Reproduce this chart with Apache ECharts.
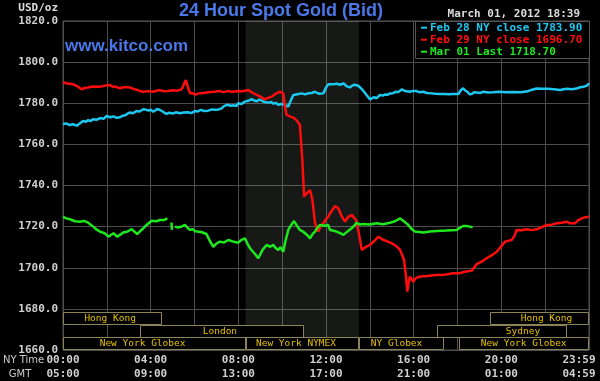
<!DOCTYPE html>
<html><head><meta charset="utf-8">
<script src="https://cdn.jsdelivr.net/npm/echarts@6/dist/echarts.min.js"></script>
<style>html,body{margin:0;padding:0;background:#000}#c{width:600px;height:381px}</style>
</head><body><div id="c"></div>
<script>
const titleText = '24 Hour Spot Gold (Bid)';
const siteText = 'www.kitco.com';
const dateText = 'March 01, 2012 18:39';
const unitText = 'USD/oz';
const nyTicks = ['00:00','04:00','08:00','12:00','16:00','20:00','23:59'];
const gmtTicks = ['05:00','09:00','13:00','17:00','21:00','01:00','04:59'];
const rowNames = ['NY Time','GMT'];
const seriesNames = ['Feb 28 NY close','Feb 29 NY close','Mar 01 Last'];
const seriesLast = ['1783.90','1696.70','1718.70'];

// [hour (NY time), price]
const feb28 = [[0,1769.8],[0.15,1770.2],[0.3,1769.4],[0.45,1769.8],[0.63,1769.1],[0.78,1770.3],[0.91,1771.4],[1.05,1771.0],[1.15,1771.8],[1.25,1771.3],[1.37,1772.2],[1.55,1772.0],[1.7,1772.8],[1.85,1772.4],[1.99,1773.8],[2.15,1773.2],[2.3,1773.6],[2.45,1772.9],[2.6,1773.2],[2.75,1774.0],[2.85,1774.2],[2.95,1775.0],[3.06,1775.5],[3.2,1775.1],[3.35,1776.2],[3.5,1776.0],[3.66,1777.1],[3.8,1776.8],[3.9,1776.4],[4.0,1776.9],[4.12,1775.9],[4.2,1776.3],[4.3,1777.2],[4.43,1776.7],[4.52,1777.4],[4.6,1775.6],[4.73,1774.8],[4.85,1775.4],[5.0,1775.0],[5.15,1775.6],[5.34,1775.1],[5.5,1775.5],[5.7,1775.6],[5.85,1775.2],[6.02,1776.2],[6.15,1776.0],[6.3,1776.8],[6.45,1776.2],[6.62,1776.4],[6.8,1777.0],[6.95,1776.8],[7.1,1777.0],[7.24,1777.5],[7.35,1778.6],[7.5,1779.3],[7.65,1778.8],[7.8,1779.0],[7.9,1778.6],[8.0,1780.0],[8.15,1779.6],[8.3,1780.8],[8.45,1781.2],[8.61,1782],[8.75,1781.2],[8.85,1781.0],[8.95,1781.8],[9.07,1781.3],[9.2,1780.6],[9.37,1780.3],[9.5,1780.6],[9.6,1779.8],[9.72,1780.2],[9.82,1779.2],[9.95,1779.6],[10.13,1779.2],[10.28,1778.4],[10.4,1781.5],[10.51,1784],[10.7,1784.4],[10.89,1784.8],[11.05,1784.3],[11.2,1784.9],[11.35,1785.0],[11.5,1785.6],[11.6,1785.0],[11.7,1784.6],[11.88,1784.8],[12.0,1787.6],[12.1,1789.2],[12.18,1788.8],[12.35,1789.3],[12.5,1789.5],[12.65,1789.0],[12.79,1789.7],[12.95,1788.2],[13.09,1787.7],[13.2,1788.6],[13.3,1789.0],[13.47,1788.5],[13.6,1787.2],[13.7,1786.1],[13.85,1784.0],[14.01,1781.9],[14.1,1782.6],[14.2,1783.0],[14.3,1782.4],[14.46,1784],[14.6,1783.7],[14.7,1784.3],[14.8,1784.1],[14.92,1784.8],[15.05,1784.9],[15.2,1785.6],[15.3,1785.4],[15.45,1786.7],[15.6,1786.0],[15.83,1785.6],[15.95,1786.0],[16.1,1786.0],[16.25,1785.4],[16.44,1785.6],[16.6,1785.0],[16.8,1784.8],[17.0,1784.6],[17.2,1784.5],[17.4,1784.5],[17.6,1784.4],[17.8,1784.5],[18.04,1784.5],[18.15,1786.3],[18.26,1787.3],[18.35,1786.2],[18.45,1785.6],[18.55,1784.4],[18.65,1784.5],[18.78,1785.4],[18.9,1785.2],[19.05,1785.0],[19.18,1785.6],[19.4,1785.2],[19.63,1785.3],[19.9,1785.6],[20.2,1785.4],[20.5,1785.5],[20.85,1785.3],[21.05,1785.6],[21.2,1785.8],[21.4,1786.6],[21.61,1787.2],[21.85,1787.0],[22.1,1787.0],[22.4,1786.8],[22.68,1786.4],[22.85,1786.8],[23.0,1787.0],[23.2,1786.8],[23.44,1787.2],[23.6,1787.8],[23.75,1788.0],[23.9,1788.6],[24,1789.7]];
const feb29 = [[0,1790.2],[0.2,1789.6],[0.47,1789.2],[0.65,1788.3],[0.85,1786.8],[1.0,1787.4],[1.1,1787.6],[1.25,1787.9],[1.38,1788.1],[1.6,1788.0],[1.8,1788.3],[1.95,1788.6],[2.14,1788.9],[2.25,1788.2],[2.4,1788.0],[2.6,1787.3],[2.8,1787.9],[3.06,1787.7],[3.2,1787.0],[3.35,1786.6],[3.5,1786.0],[3.66,1785.6],[3.9,1785.9],[4.12,1785.6],[4.3,1786.2],[4.43,1786.4],[4.6,1785.8],[4.8,1786.0],[5.0,1786.3],[5.19,1786.1],[5.42,1786.8],[5.6,1791.3],[5.7,1787.8],[5.8,1784.8],[5.9,1785.0],[6.02,1784.2],[6.2,1784.8],[6.48,1785.1],[6.7,1785.5],[6.93,1785.6],[7.1,1786.0],[7.3,1785.4],[7.54,1785.9],[7.75,1785.6],[8.0,1786.0],[8.2,1785.8],[8.46,1786.4],[8.6,1785.4],[8.76,1784.5],[9.0,1783.2],[9.22,1781.9],[9.35,1782.6],[9.52,1783.2],[9.7,1784.6],[9.9,1785.6],[10.05,1784.8],[10.12,1779.0],[10.2,1774.3],[10.35,1773.6],[10.51,1773],[10.65,1771.8],[10.81,1769.4],[10.92,1752.4],[11.0,1734.6],[11.12,1736.2],[11.27,1737.8],[11.38,1733],[11.5,1721.6],[11.65,1717.6],[11.75,1720.2],[11.88,1721.6],[12.0,1723.6],[12.1,1724.8],[12.18,1726.4],[12.3,1728.2],[12.41,1730],[12.56,1728.9],[12.7,1725.4],[12.87,1722.4],[13.0,1724.6],[13.17,1725.7],[13.37,1723.2],[13.47,1718.4],[13.63,1708.7],[13.8,1710.0],[14.01,1711.1],[14.2,1713.0],[14.39,1715.1],[14.62,1713.5],[14.8,1712.8],[15.0,1711.9],[15.2,1710.6],[15.38,1708.7],[15.56,1703.8],[15.65,1695.7],[15.71,1688.4],[15.77,1693.0],[15.83,1695.7],[15.98,1693.2],[16.1,1695.0],[16.29,1695.7],[16.6,1696.0],[17.05,1696.5],[17.4,1696.6],[17.8,1697.3],[18.11,1697.3],[18.34,1698.1],[18.65,1698.6],[18.88,1701.8],[19.1,1703.0],[19.33,1704.6],[19.55,1706.0],[19.79,1707.8],[19.95,1709.8],[20.17,1712.7],[20.47,1713.5],[20.6,1715.5],[20.7,1718.4],[20.9,1718.2],[21.15,1718.7],[21.4,1718.3],[21.61,1718.7],[21.85,1719.8],[22.07,1720.8],[22.3,1720.9],[22.52,1721.6],[22.75,1721.9],[22.98,1722.4],[23.15,1721.6],[23.36,1721.6],[23.5,1723.0],[23.67,1724],[23.85,1724.6],[24,1724.8]];
const mar01 = [[0,1724.8],[0.15,1724.0],[0.32,1723.6],[0.55,1722.6],[0.78,1722.4],[0.95,1722.8],[1.15,1721.9],[1.38,1720],[1.5,1718.8],[1.69,1717.6],[1.9,1716.8],[2.07,1715.1],[2.3,1716.8],[2.48,1715.1],[2.6,1716.0],[2.75,1717.1],[2.95,1717.6],[3.13,1718.8],[3.25,1717.6],[3.39,1716.4],[3.5,1717.6],[3.66,1719.1],[3.85,1721.2],[4.05,1722.9],[4.25,1722.6],[4.43,1723.2],[4.6,1723.2],[4.76,1724],[4.85,null],[4.95,1722],[4.97,1718.4],[5.02,null],[5.11,1720],[5.25,1719.6],[5.34,1719.2],[5.45,1720.2],[5.57,1720.8],[5.7,1719.2],[5.8,1718.4],[5.92,1718.8],[6.02,1717.8],[6.3,1717.4],[6.55,1716.4],[6.7,1713.0],[6.86,1710.2],[7.0,1711.8],[7.16,1712.7],[7.35,1712.3],[7.54,1713.5],[7.8,1712.6],[8.0,1712.2],[8.15,1713.6],[8.3,1714.3],[8.4,1712.0],[8.53,1709.5],[8.75,1706.8],[8.91,1704.6],[9.1,1708.6],[9.29,1711.1],[9.45,1710.2],[9.6,1711.1],[9.7,1709.6],[9.82,1708.7],[9.92,1710.0],[10.05,1707.8],[10.15,1713.0],[10.28,1718.4],[10.4,1720.6],[10.54,1722.7],[10.7,1720.0],[10.81,1718.4],[10.95,1717.6],[11.04,1716.8],[11.15,1715.8],[11.27,1714.3],[11.4,1716.6],[11.5,1717.6],[11.6,1719.4],[11.73,1720.8],[11.9,1720.4],[12.1,1720.8],[12.18,1718.4],[12.35,1718.0],[12.48,1717.6],[12.65,1716.8],[12.79,1716],[13.0,1717.8],[13.17,1719.2],[13.3,1720.6],[13.4,1721.9],[13.55,1721.0],[13.7,1721.3],[14.0,1721.0],[14.31,1721.6],[14.6,1721.2],[14.92,1721.9],[15.15,1722.6],[15.38,1724],[15.55,1722.6],[15.76,1720.8],[15.9,1718.8],[16.06,1717.6],[16.25,1717.4],[16.44,1717.1],[16.75,1717.6],[17.05,1717.9],[17.5,1718.1],[17.96,1718.4],[18.1,1719.4],[18.26,1720.3],[18.41,1720.3],[18.55,1720.0],[18.69,1719.7]];

const nymexHours = [8.333, 13.5];
const sessionNames = ['Hong Kong','Hong Kong','London','Sydney','New York Globex','New York NYMEX','NY Globex','New York Globex'];
const sessionStart = [0, 19.5, 3.5, 17.05, 0, 8.333, 13.5, 18.05];
const sessionEnd   = [4.5, 24, 11.0, 23.0, 8.333, 13.5, 17.4, 24];
const sessionRow   = [0, 0, 1, 1, 2, 2, 2, 2];
const sessionLabelAt = [2.15, 22.06, 7.16, 20.99, 3.63, 10.63, 15.22, 21.02];

const colors = ['#1cc8f0', '#ff0d0d', '#1ee81e'];
const mono = '"DejaVu Sans Mono", monospace';

const chart = echarts.init(document.getElementById('c'), null, {renderer: 'canvas'});

const sessionData = sessionNames.map((n, i) => [sessionStart[i], sessionEnd[i], sessionRow[i], sessionLabelAt[i]]);

const graphics = [
  {type:'text', z:100, style:{text:titleText, x:281, y:11, align:'center', verticalAlign:'middle', font:'bold 18px "Liberation Sans", Arial', fill:'#4a78e8'}},
  {type:'text', z:100, style:{text:siteText, x:65, y:46, align:'left', verticalAlign:'middle', font:'bold 17px "Liberation Sans", Arial', fill:'#4a78e8'}},
  {type:'text', z:100, style:{text:dateText, x:580, y:14, align:'right', verticalAlign:'middle', font:'bold 11px ' + mono, fill:'#dddddd'}},
  {type:'text', z:100, style:{text:unitText, x:58, y:8, align:'right', verticalAlign:'middle', font:'bold 11px ' + mono, fill:'#dddddd'}},
  {type:'rect', z:100, shape:{x:415.5, y:21.5, width:174, height:37}, style:{fill:'#000', stroke:'#555', lineWidth:1}},
  {type:'text', z:100, style:{text:rowNames[0], x:3, y:360, align:'left', verticalAlign:'middle', font:'10px "DejaVu Sans"', fill:'#cccccc'}},
  {type:'text', z:100, style:{text:rowNames[1], x:20, y:374, align:'center', verticalAlign:'middle', font:'10px "DejaVu Sans"', fill:'#cccccc'}},
  {type:'text', z:100, style:{text:nyTicks[6], x:579, y:360, align:'center', verticalAlign:'middle', font:'bold 11px ' + mono, fill:'#d0d0d0'}},
  {type:'text', z:100, style:{text:gmtTicks[6], x:579, y:374, align:'center', verticalAlign:'middle', font:'bold 11px ' + mono, fill:'#d0d0d0'}}
];
seriesNames.forEach((n, i) => {
  const cy = 27.7 + i * 12;
  graphics.push({type:'rect', z:101, shape:{x:421, y:cy - 1, width:6, height:2}, style:{fill:colors[i]}});
  graphics.push({type:'text', z:101, style:{text:n + ' ' + seriesLast[i], x:430, y:cy, align:'left', verticalAlign:'middle', font:'bold 11px ' + mono, fill:colors[i]}});
});

chart.setOption({
  backgroundColor: '#000',
  animation: false,
  grid: {left: 63, right: 11, top: 21, bottom: 31, show: true, borderColor: '#555', borderWidth: 1, backgroundColor: 'transparent'},
  xAxis: {
    type: 'value', min: 0, max: 24, interval: 2,
    axisLine: {show: false}, axisTick: {show: false},
    splitLine: {show: true, lineStyle: {color: '#4d4d4d', width: 1}},
    axisLabel: {
      color: '#d0d0d0', fontFamily: mono, fontWeight: 'bold', fontSize: 11, lineHeight: 14, margin: 3,
      showMaxLabel: false,
      formatter: v => (v % 4 === 0 && v < 24) ? nyTicks[v / 4] + '\n' + gmtTicks[v / 4] : ''
    }
  },
  yAxis: {
    type: 'value', min: 1660, max: 1820, interval: 20,
    axisLine: {show: false}, axisTick: {show: false},
    splitLine: {show: true, lineStyle: {color: '#4d4d4d', width: 1}},
    axisLabel: {color: '#d0d0d0', fontFamily: mono, fontWeight: 'bold', fontSize: 11, margin: 5, formatter: v => v.toFixed(1)}
  },
  graphic: graphics,
  series: [
    {type: 'line', data: [], silent: true,
      markArea: {silent: true, itemStyle: {color: 'rgba(190,205,190,0.12)'}, data: [[{xAxis: nymexHours[0]}, {xAxis: nymexHours[1]}]]}},
    {type: 'line', name: seriesNames[0], data: feb28, showSymbol: false, lineStyle: {color: colors[0], width: 2.5}, itemStyle: {color: colors[0]}},
    {type: 'line', name: seriesNames[1], data: feb29, showSymbol: false, lineStyle: {color: colors[1], width: 2.5}, itemStyle: {color: colors[1]}},
    {type: 'line', name: seriesNames[2], data: mar01, showSymbol: false, connectNulls: false, lineStyle: {color: colors[2], width: 2.5}, itemStyle: {color: colors[2]}},
    {type: 'custom', data: sessionData, silent: true, clip: true,
      renderItem: (params, api) => {
        const s = api.value(0), e = api.value(1), row = api.value(2), lab = api.value(3);
        const cs = params.coordSys;
        const pTop = api.coord([s, 1680]);
        const pBot = api.coord([e, 1660]);
        const top0 = pTop[1] + 3.5;
        const rowH = (pBot[1] - 1 - top0) / 3;
        const x0 = Math.max(pTop[0], cs.x);
        const x1 = Math.min(pBot[0], cs.x + cs.width);
        const y = top0 + row * rowH;
        const lx = api.coord([lab, 1680])[0];
        return {type: 'group', children: [
          {type: 'rect', shape: {x: Math.round(x0) + 0.5, y: Math.round(y) + 0.5, width: Math.round(x1 - x0) - 1, height: Math.round(rowH)},
            style: {fill: '#000', stroke: '#8c8456', lineWidth: 1}},
          {type: 'text', style: {text: sessionNames[params.dataIndex], x: lx, y: y + rowH / 2 + 0.5, align: 'center', verticalAlign: 'middle',
            fill: '#e8c000', font: '9.5px ' + mono}}
        ]};
      }}
  ]
});
</script></body></html>
